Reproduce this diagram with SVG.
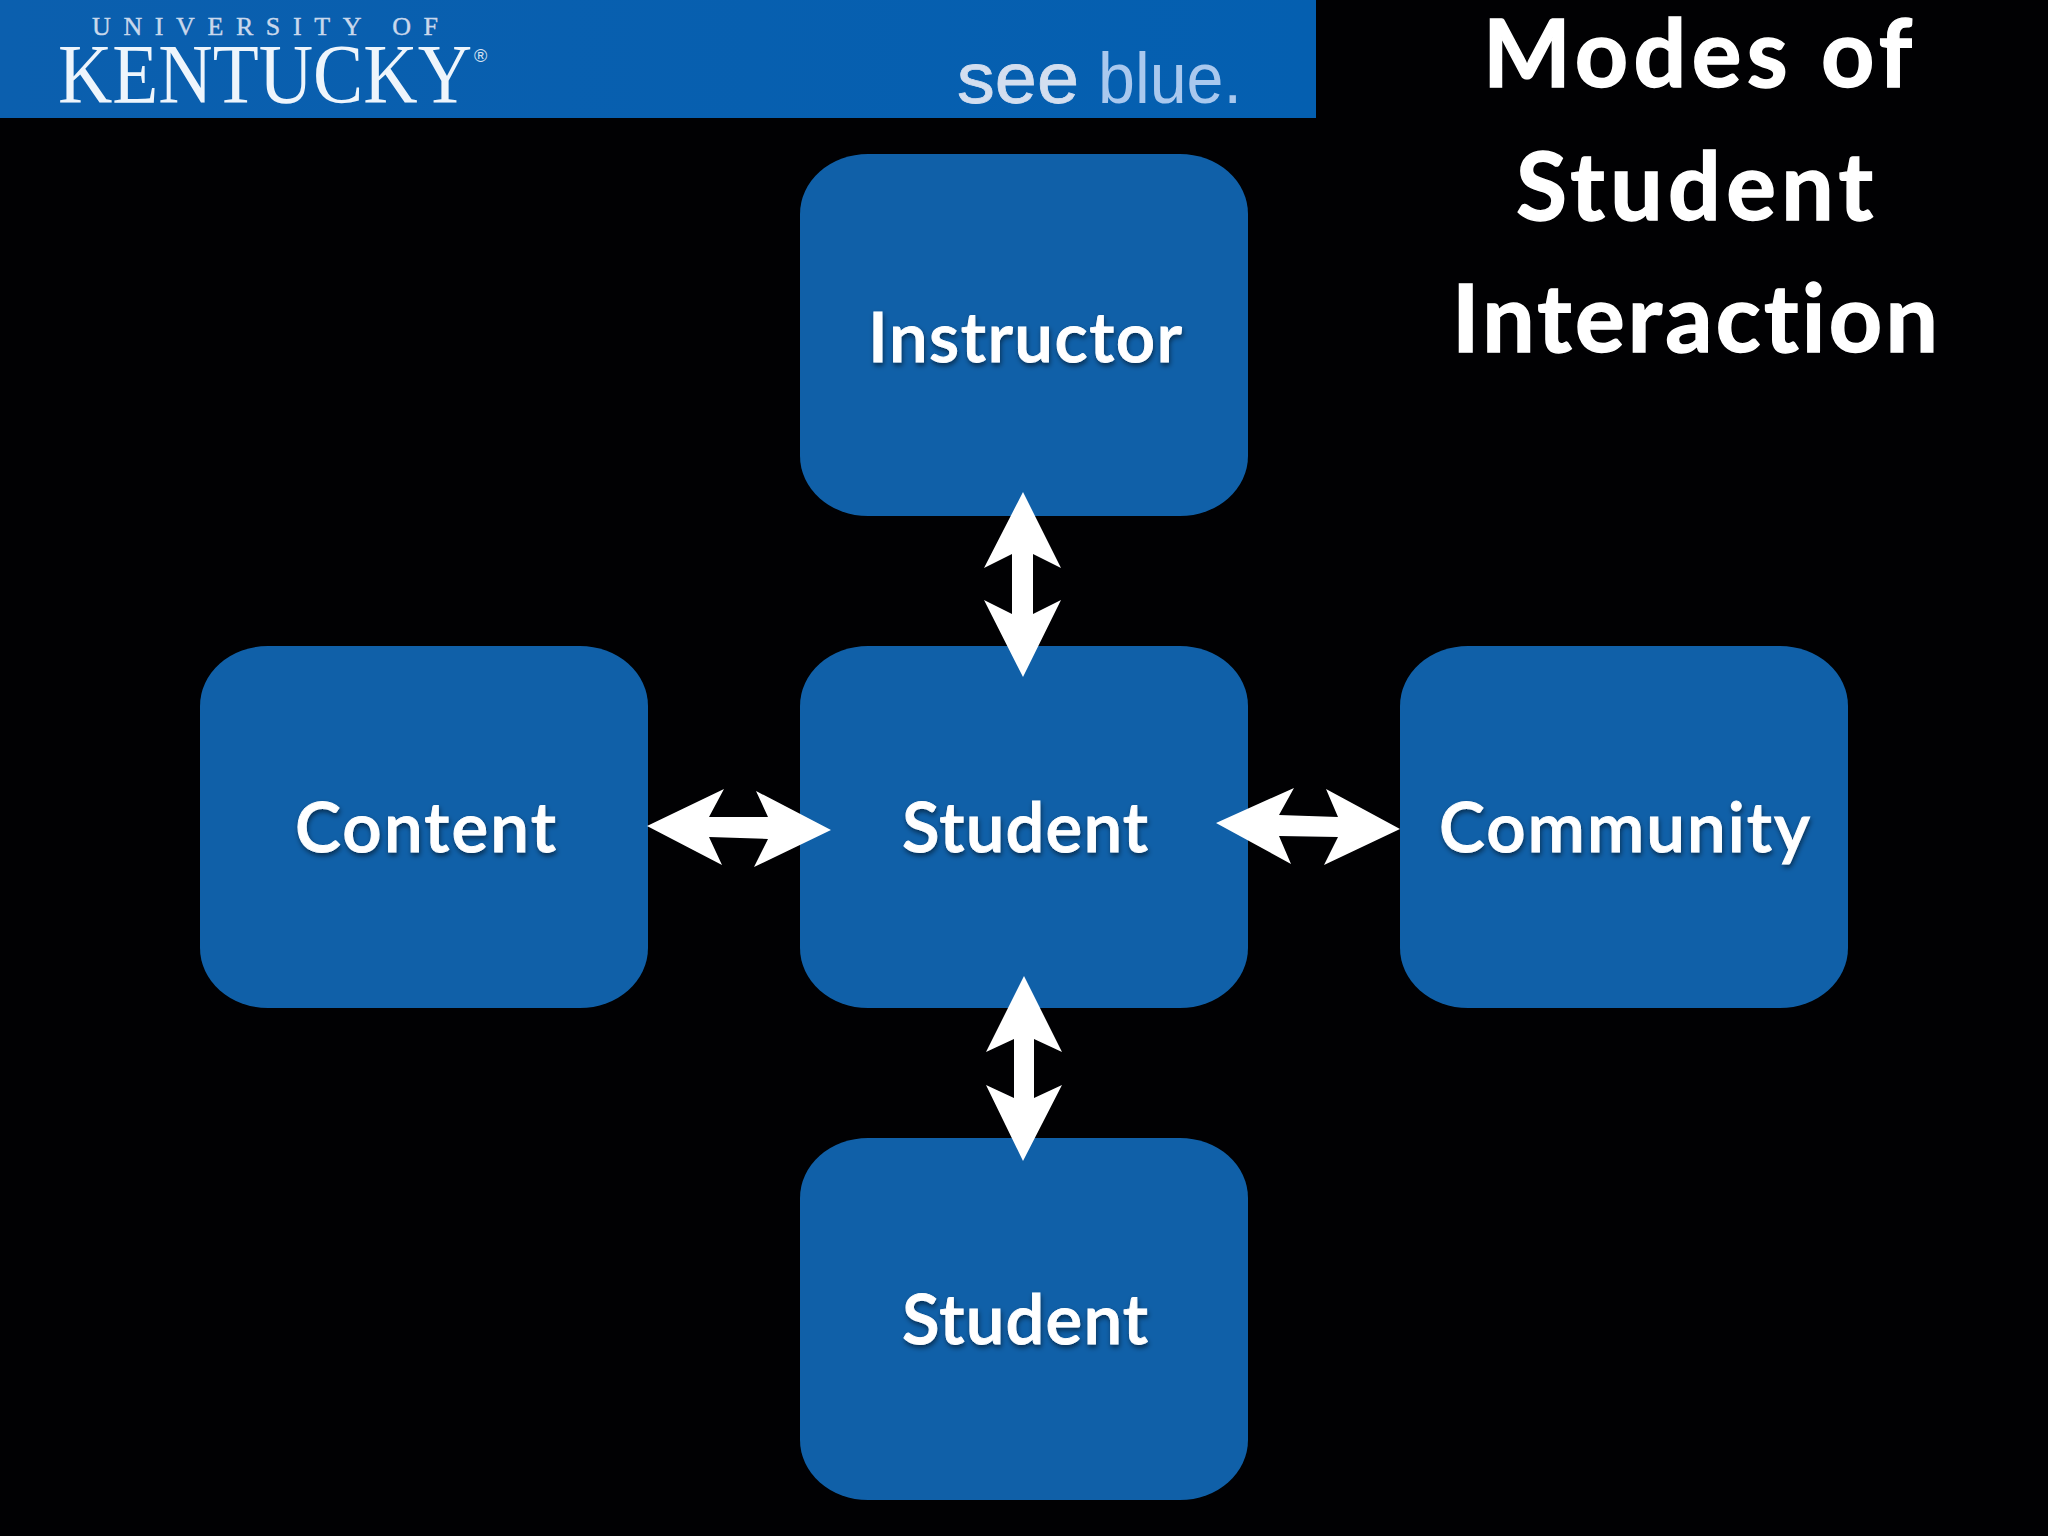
<svg xmlns="http://www.w3.org/2000/svg" width="2048" height="1536" viewBox="0 0 2048 1536">
<style>
text{font-variant-ligatures:none}
.box{fill:#1060a8}
.lbl{font-family:"Lato","Noto Sans",sans-serif;font-weight:600;font-size:69px;fill:#fff;stroke:#fff;stroke-width:.9;filter:url(#ts)}
.title{font-family:"Lato","Noto Sans",sans-serif;font-weight:700;font-size:93px;fill:#fff;stroke:#fff;stroke-width:1.4}
.arr{fill:#fff}
</style>
<defs>
<filter id="ts" x="-10%" y="-20%" width="120%" height="150%"><feDropShadow dx="1" dy="3" stdDeviation="2.5" flood-color="#000" flood-opacity=".5"/></filter>
<linearGradient id="bn" x1="0" y1="0" x2="1" y2="0"><stop offset="0" stop-color="#0b5fae"/><stop offset="1" stop-color="#045fb0"/></linearGradient>
</defs>
<rect width="2048" height="1536" fill="#010103"/>
<g id="banner">
<rect width="1316" height="118" fill="url(#bn)"/>
<text x="92" y="35" font-family="Liberation Serif,serif" font-size="26" fill="#c9d8ec" stroke="#c9d8ec" stroke-width=".4" textLength="346" lengthAdjust="spacing">UNIVERSITY OF</text>
<text x="58" y="103" font-family="Liberation Serif,serif" font-size="85" fill="#eef5fc" textLength="414" lengthAdjust="spacingAndGlyphs">KENTUCKY</text>
<text x="474" y="62" font-family="Liberation Sans,sans-serif" font-size="18" fill="#d5e2f2">®</text>
<text x="957" y="103" font-family="Liberation Sans,sans-serif" font-size="73" fill="#d3deef" stroke="#d3deef" stroke-width=".8" textLength="122" lengthAdjust="spacingAndGlyphs">see</text>
<text x="1098" y="103" font-family="Liberation Sans,sans-serif" font-size="73" fill="#a9c8ee" textLength="144" lengthAdjust="spacingAndGlyphs">blue.</text>
</g>
<g id="title">
<text class="title" x="1483" y="87" textLength="429" lengthAdjust="spacing">Modes of</text>
<text class="title" x="1516" y="220" textLength="357" lengthAdjust="spacing">Student</text>
<text class="title" x="1452" y="352" textLength="486" lengthAdjust="spacing">Interaction</text>
</g>
<g id="node-instructor"><rect class="box" x="800" y="154" width="448" height="362" rx="68" ry="60"/><text class="lbl" x="868" y="362" textLength="314" lengthAdjust="spacing">Instructor</text></g>
<g id="node-content"><rect class="box" x="200" y="646" width="448" height="362" rx="68" ry="60"/><text class="lbl" x="295" y="852" textLength="261" lengthAdjust="spacing">Content</text></g>
<g id="node-student"><rect class="box" x="800" y="646" width="448" height="362" rx="68" ry="60"/><text class="lbl" x="902" y="852" textLength="246" lengthAdjust="spacing">Student</text></g>
<g id="node-community"><rect class="box" x="1400" y="646" width="448" height="362" rx="68" ry="60"/><text class="lbl" x="1439" y="852" textLength="371" lengthAdjust="spacing">Community</text></g>
<g id="node-student-2"><rect class="box" x="800" y="1138" width="448" height="362" rx="68" ry="60"/><text class="lbl" x="902" y="1344" textLength="246" lengthAdjust="spacing">Student</text></g>
<g id="connectors">
<polygon class="arr" points="1023,492 1061,568 1033,554 1033,614 1061,600 1023,677 984,600 1012,614 1012,554 984,568"/>
<polygon class="arr" points="647,826 724,789 709,817 768,817 756,791 831,830 754,867 768,839 709,837 722,865"/>
<polygon class="arr" points="1216,823 1294,788 1279,815 1338,817 1326,789 1400,829 1324,865 1338,837 1279,836 1291,864"/>
<polygon class="arr" points="1024,976 1062,1052 1034,1039 1034,1098 1062,1085 1023,1161 986,1085 1014,1098 1014,1039 986,1052"/>
</g>
</svg>
